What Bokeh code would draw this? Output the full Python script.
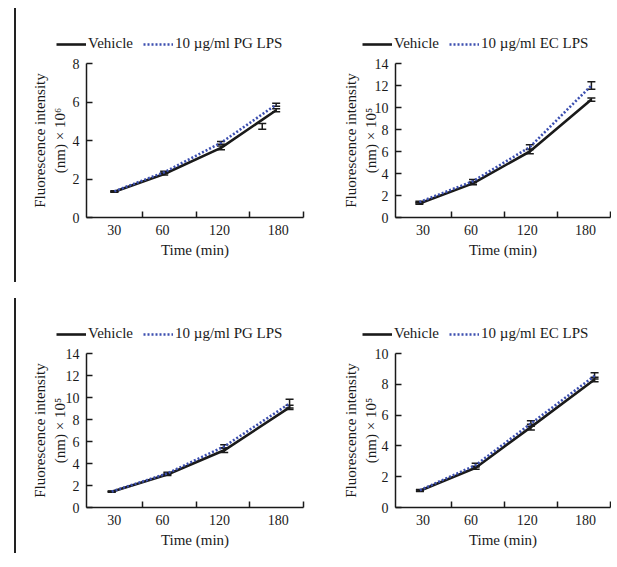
from bokeh.plotting import figure
from bokeh.models import (Range1d, FixedTicker, Legend, LegendItem, Whisker,
                          TeeHead, ColumnDataSource, Div)
from bokeh.layouts import row, column
from bokeh.embed import file_html
from bokeh.resources import INLINE

# ---------------- data ----------------
times = ["30", "60", "120", "180"]
time_label_pos = [0.47, 1.37, 2.43, 3.53]
time_boundaries = [1, 2, 3, 4]

# Panel A : PG LPS (x 10^6)
a_x = [0.47, 1.40, 2.46, 3.49]
a_vehicle = [1.34, 2.26, 3.62, 5.57]
a_lps = [1.36, 2.35, 3.88, 5.86]
a_vehicle_sd = [0.03, 0.05, 0.10, 0.08]
a_lps_sd = [0.03, 0.05, 0.07, 0.08]
a_extra_x = [3.23]
a_extra_y = [4.73]
a_extra_sd = [0.15]

# Panel B : EC LPS (x 10^5)
b_x = [0.40, 1.41, 2.48, 3.64]
b_vehicle = [1.28, 3.10, 6.00, 10.72]
b_lps = [1.40, 3.30, 6.40, 12.00]
b_vehicle_sd = [0.08, 0.12, 0.20, 0.15]
b_lps_sd = [0.08, 0.15, 0.22, 0.35]

# Panel C : PG LPS (x 10^5)
c_x = [0.42, 1.46, 2.52, 3.74]
c_vehicle = [1.43, 3.00, 5.20, 9.10]
c_lps = [1.45, 3.10, 5.55, 9.45]
c_vehicle_sd = [0.05, 0.10, 0.20, 0.20]
c_lps_sd = [0.05, 0.10, 0.15, 0.40]

# Panel D : EC LPS (x 10^5)
d_x = [0.41, 1.46, 2.50, 3.70]
d_vehicle = [1.09, 2.58, 5.22, 8.31]
d_lps = [1.12, 2.75, 5.45, 8.55]
d_vehicle_sd = [0.05, 0.10, 0.18, 0.15]
d_lps_sd = [0.05, 0.12, 0.18, 0.20]

FONT = "Liberation Serif"
INK = "#1a1a1a"
BLUE = "#3c4fb0"
LEG_H = 53


def legend_strip(width, lps_label, dx):
    lf = figure(width=width, height=LEG_H, output_backend="svg",
                toolbar_location=None, x_axis_location=None,
                y_axis_location=None, x_range=Range1d(0, 1),
                y_range=Range1d(0, 1), min_border=0,
                min_border_left=0, min_border_right=0,
                min_border_top=0, min_border_bottom=0)
    lf.frame_align = False
    lf.outline_line_color = None
    lf.xgrid.visible = False
    lf.ygrid.visible = False
    # legend proxies, placed outside the visible range
    r1 = lf.line(x=[-2, -1], y=[-2, -1], line_color=INK, line_width=2.6)
    r2 = lf.line(x=[-2, -1], y=[-2, -1], line_color=BLUE, line_width=2.6,
                 line_dash="2 2")
    legend = Legend(items=[LegendItem(label="Vehicle", renderers=[r1]),
                           LegendItem(label=lps_label, renderers=[r2])],
                    location=(dx, 1), orientation="horizontal",
                    glyph_width=30, glyph_height=16, label_standoff=2,
                    spacing=10, padding=0, margin=0,
                    label_text_font=FONT, label_text_font_size="15px",
                    label_text_color=INK,
                    border_line_alpha=0, background_fill_alpha=0)
    lf.add_layout(legend)
    return lf


def make_panel(x, veh, lps, vsd, lsd, ymax, exp_sup,
               width, height, bl, br, bt, bb, lab_standoff, extra=None):
    p = figure(width=width, height=height, output_backend="svg",
               toolbar_location=None,
               x_range=Range1d(-0.05, 4), y_range=Range1d(0, ymax),
               min_border_left=bl, min_border_right=br,
               min_border_top=bt, min_border_bottom=bb)
    p.frame_align = False
    p.outline_line_color = None
    p.xgrid.visible = False
    p.ygrid.visible = False
    p.background_fill_color = "white"
    p.border_fill_color = "white"

    p.line(x, veh, line_color=INK, line_width=2.6)
    p.line(x, lps, line_color=BLUE, line_width=2.6, line_dash="2 2")

    ex = list(x) + list(x)
    ey = list(veh) + list(lps)
    ee = list(vsd) + list(lsd)
    if extra is not None:
        ex += extra[0]
        ey += extra[1]
        ee += extra[2]
    src = ColumnDataSource(dict(x=ex,
                                upper=[a + b for a, b in zip(ey, ee)],
                                lower=[a - b for a, b in zip(ey, ee)]))
    w = Whisker(source=src, base="x", upper="upper", lower="lower",
                line_color=INK, line_width=1.5,
                upper_head=TeeHead(size=8, line_width=1.5, line_color=INK),
                lower_head=TeeHead(size=8, line_width=1.5, line_color=INK))
    p.add_layout(w)

    for ax in (p.xaxis[0], p.yaxis[0]):
        ax.axis_line_color = INK
        ax.axis_line_width = 1.5
        ax.major_tick_line_color = INK
        ax.major_tick_line_width = 1.5
        ax.minor_tick_line_color = INK
        ax.minor_tick_line_width = 1.5
        ax.major_label_text_font = FONT
        ax.major_label_text_font_size = "14px"
        ax.major_label_text_color = INK
        ax.axis_label_text_font = FONT
        ax.axis_label_text_font_size = "15px"
        ax.axis_label_text_font_style = "normal"
        ax.axis_label_text_color = INK

    xa = p.xaxis[0]
    xa.ticker = FixedTicker(ticks=time_label_pos, minor_ticks=time_boundaries)
    xa.major_tick_in = 0
    xa.major_tick_out = 0
    xa.minor_tick_in = 6
    xa.minor_tick_out = 0
    xa.major_label_overrides = dict(zip(time_label_pos, times))
    xa.major_label_standoff = 7
    xa.axis_label = "Time (min)"
    xa.axis_label_standoff = 4

    ya = p.yaxis[0]
    ya.ticker = FixedTicker(ticks=list(range(0, ymax + 1, 2)), minor_ticks=[])
    ya.major_tick_in = 6
    ya.major_tick_out = 0
    ya.minor_tick_in = 0
    ya.minor_tick_out = 0
    ya.major_label_standoff = 7
    ya.axis_label = "Fluorescence intensity\n(nm) \u00d7 10" + exp_sup
    ya.axis_label_standoff = lab_standoff
    return p


WL, WR = 302, 291
H1, H2 = 290, 270

pa = make_panel(a_x, a_vehicle, a_lps, a_vehicle_sd, a_lps_sd, 8, "\u2076",
                WL, H1 - LEG_H, 68, 17, 10, 73, 2,
                extra=(a_extra_x, a_extra_y, a_extra_sd))
pb = make_panel(b_x, b_vehicle, b_lps, b_vehicle_sd, b_lps_sd, 14, "\u2075",
                WR, H1 - LEG_H, 75, 1, 10, 73, -7)
pc = make_panel(c_x, c_vehicle, c_lps, c_vehicle_sd, c_lps_sd, 14, "\u2075",
                WL, H2 - LEG_H, 68, 17, 10, 53, -5)
pd = make_panel(d_x, d_vehicle, d_lps, d_vehicle_sd, d_lps_sd, 10, "\u2075",
                WR, H2 - LEG_H, 75, 1, 10, 53, -7)

la = legend_strip(WL, "10 \u00b5g/ml PG LPS", 38)
lb = legend_strip(WR, "10 \u00b5g/ml EC LPS", 42)
lc = legend_strip(WL, "10 \u00b5g/ml PG LPS", 38)
ld = legend_strip(WR, "10 \u00b5g/ml EC LPS", 42)

bar1 = Div(text='<div style="margin-left:9px;margin-top:3px;width:0;'
                'height:274px;border-left:2px solid #222"></div>',
           width=8, height=277)
bar2 = Div(text='<div style="margin-left:9px;margin-top:3px;width:0;'
                'height:255px;border-left:2px solid #222"></div>',
           width=8, height=258)

layout = column(row(bar1, column(la, pa), column(lb, pb)),
                row(bar2, column(lc, pc), column(ld, pd)))

open("out.html", "w").write(file_html(layout, INLINE))
